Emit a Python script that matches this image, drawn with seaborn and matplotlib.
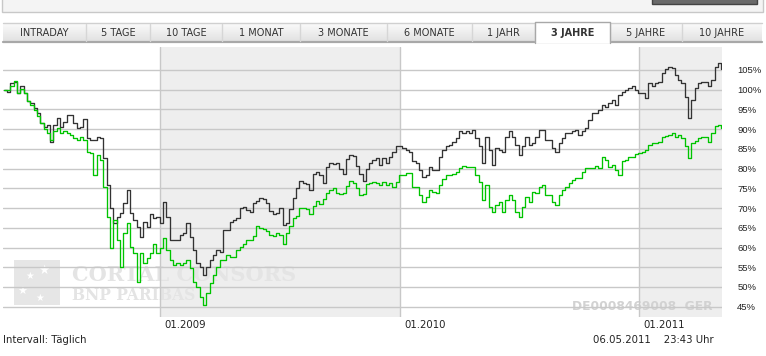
import numpy as np
import pandas as pd
import matplotlib
matplotlib.use("Agg")
import matplotlib.pyplot as plt
import seaborn as sns
from matplotlib.patches import Rectangle
from matplotlib import transforms

# chart values (percent of start level)
dax_line = [
    99.9, 99.5, 101.6, 102.0, 99.1, 100.9, 99.1, 97.0, 96.5, 95.3,
    94.2, 91.5, 90.6, 91.1, 86.8, 91.1, 92.7, 90.6, 91.9, 93.6,
    93.6, 91.5, 90.2, 90.6, 92.5, 87.7, 87.2, 87.2, 88.1, 87.7,
    82.6, 75.8, 69.9, 66.1, 67.8, 68.7, 71.2, 74.6, 68.7, 67.0,
    65.3, 62.7, 66.5, 65.3, 68.5, 67.4, 67.8, 66.1, 71.6, 67.8,
    61.9, 61.9, 61.9, 63.2, 63.6, 66.1, 62.7, 59.4, 56.0, 55.1,
    53.0, 55.1, 56.8, 58.1, 59.4, 58.9, 64.4, 64.4, 66.5, 67.0,
    67.4, 69.9, 70.3, 69.5, 69.1,
    71.4, 71.8, 72.6, 72.2, 71.4, 69.2, 68.4, 68.8, 70.1, 65.8,
    66.3, 69.7, 72.6, 75.2, 76.9, 76.4, 76.0, 74.7, 78.6, 79.2,
    78.3, 76.4, 80.3, 81.5, 81.1, 81.5, 79.8, 78.6, 82.4, 83.4,
    83.2, 80.7, 78.6, 76.9, 79.8, 81.4,
    82.2, 82.6, 80.9, 82.6, 81.3, 83.0, 84.3, 85.6, 85.6, 85.1,
    84.7, 84.3, 81.8, 81.3, 79.6, 77.9, 78.4, 80.5, 79.6, 79.6,
    83.0, 84.7, 85.6, 86.0, 86.8, 87.7, 89.4, 89.1, 89.4, 88.9,
    89.8, 87.7, 85.6, 81.3, 88.1, 84.7, 80.9, 85.1, 84.7, 84.3,
    88.1, 89.4, 88.1, 86.0, 83.4, 85.6, 88.1, 86.0, 86.4, 88.1,
    89.8, 89.8, 87.2, 87.2, 85.1, 84.3, 86.4, 87.7, 88.9, 89.1,
    89.4, 89.8, 88.5, 89.4, 90.2, 92.3, 94.0, 94.0, 94.9, 96.1,
    95.7, 96.5, 97.4, 96.1, 98.7, 99.5, 99.8, 100.4, 100.8, 99.9,
    99.1,
    99.1, 97.8, 101.6, 100.8, 101.6, 102.0, 104.2, 105.2, 105.7, 105.4,
    103.7, 102.5, 101.6, 98.2, 92.7, 97.4, 100.4, 101.6, 102.0, 102.0,
    100.8, 102.5, 105.8, 106.8, 105.2,
]

green_line = [
    99.9, 99.9, 100.8, 102.3, 99.1, 100.1, 99.1, 97.0, 96.1, 94.9,
    93.2, 91.5, 90.0, 88.9, 87.2, 89.4, 90.2, 88.9, 89.4, 88.9,
    88.5, 87.7, 87.2, 88.1, 87.2, 84.3, 83.9, 78.4, 83.4, 82.2,
    75.4, 67.8, 59.8, 67.0, 61.9, 55.1, 63.6, 66.1, 60.2, 58.5,
    51.3, 58.5, 56.0, 57.3, 58.7, 61.0, 58.5, 59.8, 62.3, 59.4,
    56.8, 55.5, 56.0, 55.5, 56.0, 56.8, 54.7, 51.3, 50.1, 47.5,
    45.4, 48.4, 50.9, 53.0, 55.1, 56.8, 56.8, 58.1, 57.7, 57.7,
    59.4, 60.2, 61.0, 61.9, 61.9,
    62.9, 65.4, 65.0, 64.6, 64.2, 63.1, 62.9, 63.7, 63.3, 60.8,
    63.7, 65.4, 67.5, 68.0, 70.1, 70.1, 69.7, 68.4, 70.5, 71.8,
    70.9, 72.2, 73.9, 74.7, 75.2, 73.9, 73.5, 73.9, 75.6, 76.9,
    76.4, 75.2, 73.2, 73.5, 76.0, 76.4,
    76.7, 76.3, 75.8, 76.7, 75.8, 76.4, 75.4, 76.7, 78.4, 78.4,
    78.8, 78.8, 75.4, 75.4, 73.3, 71.6, 72.9, 74.6, 74.1, 73.9,
    75.8, 77.3, 78.4, 78.4, 78.6, 79.2, 80.1, 80.7, 80.5, 80.3,
    80.3, 78.4, 76.7, 72.0, 75.8, 70.3, 69.1, 70.8, 71.6, 69.1,
    72.0, 73.3, 72.0, 69.1, 67.8, 70.3, 72.9, 71.6, 74.1, 73.7,
    75.4, 75.8, 73.3, 73.3, 71.6, 70.8, 73.3, 74.6, 75.4, 76.3,
    77.1, 77.5, 77.5, 79.2, 80.1, 80.1, 80.1, 80.7, 80.1, 83.0,
    82.2, 80.5, 80.9, 79.6, 78.4, 81.8, 82.3, 82.9, 83.0, 83.6,
    83.9,
    84.3, 84.7, 86.0, 86.4, 86.4, 86.8, 88.1, 88.3, 88.5, 88.9,
    87.9, 88.5, 87.7, 85.6, 82.6, 86.4, 87.1, 87.7, 88.1, 88.1,
    86.8, 88.9, 90.8, 91.1, 90.2,
]

y_ticks = [45, 50, 55, 60, 65, 70, 75, 80, 85, 90, 95, 100, 105]
year_starts = ["2009-01-01", "2010-01-01", "2011-01-01"]
year_labels = ["01.2009", "01.2010", "01.2011"]
tab_labels = ["INTRADAY", "5 TAGE", "10 TAGE", "1 MONAT", "3 MONATE",
              "6 MONATE", "1 JAHR", "3 JAHRE", "5 JAHRE", "10 JAHRE"]
active_tab = "3 JAHRE"

dates = pd.date_range("2008-05-07", "2011-05-06", periods=len(dax_line))
df = pd.concat([
    pd.DataFrame({"date": dates, "value": dax_line, "series": "DAX"}),
    pd.DataFrame({"date": dates, "value": green_line, "series": "Vergleich"}),
], ignore_index=True)

sns.set_style("white")
plt.rcParams["font.family"] = ["DejaVu Sans"]

W, H = 766, 356
fig = plt.figure(figsize=(W / 100, H / 100), dpi=100)
fig.patch.set_facecolor("white")

# pixel overlay for the page decoration
ov = fig.add_axes([0, 0, 1, 1], zorder=0)
ov.set_xlim(0, W)
ov.set_ylim(H, 0)
ov.axis("off")

# plot area: x 3..722, y 47..317 px
ax = fig.add_axes([3 / W, 1 - 317 / H, 719 / W, 270 / H], zorder=1)
ax.set_facecolor("none")
x0, x1 = pd.Timestamp("2008-05-06"), pd.Timestamp("2011-05-07")
ax.set_xlim(x0, x1)
ax.set_ylim(42.4, 110.8)

# alternating year shading
ax.axvspan(pd.Timestamp("2009-01-01"), pd.Timestamp("2010-01-01"), color="#eeeeee", lw=0, zorder=0)
ax.axvspan(pd.Timestamp("2011-01-01"), x1, color="#eeeeee", lw=0, zorder=0)

# watermark
ov_tr = ov.transData
ax.add_patch(Rectangle((14, 260), 46, 45, transform=ov_tr, color="#e6e6e6", lw=0, zorder=0.5))
for sx, sy, ss in [(44, 270, 9), (30, 276, 7), (22, 292, 8), (40, 298, 7)]:
    ax.text(sx, sy, "\u2605", transform=ov_tr, color="white", fontsize=ss,
            ha="center", va="center", zorder=0.6)
ax.text(72, 275, "CORTAL CONSORS", transform=ov_tr, color="#e4e4e4", fontsize=15,
        family="DejaVu Serif", weight="bold", ha="left", va="center", zorder=0.5)
ax.text(72, 296, "BNP PARIBAS", transform=ov_tr, color="#e4e4e4", fontsize=11.2,
        family="DejaVu Serif", weight="bold", ha="left", va="center", zorder=0.5)
ax.text(712, 306, "DE0008469008  GER", transform=ov_tr, color="#d2d2d2", fontsize=8.8,
        weight="bold", ha="right", va="center", zorder=0.5)

# grid
for v in y_ticks:
    ax.axhline(v, color="#c8c8c8", lw=1.0, zorder=1)
for d in year_starts:
    ax.axvline(pd.Timestamp(d), color="#c8c8c8", lw=1.0, zorder=1)

sns.lineplot(data=df, x="date", y="value", hue="series", hue_order=["DAX", "Vergleich"],
             palette={"DAX": "#333333", "Vergleich": "#00c400"}, drawstyle="steps-post",
             lw=0.95, legend=False, estimator=None, ax=ax, zorder=3)

for s in ax.spines.values():
    s.set_visible(False)
ax.set_xlabel("")
ax.set_ylabel("")
ax.set_xticks([])
ax.yaxis.set_ticks_position("right")
ax.set_yticks(y_ticks)
ax.set_yticklabels([f"{v}%" for v in y_ticks], family="Liberation Sans", fontsize=6.8, color="#222222")
ax.tick_params(axis="y", length=0, pad=11)

lab_tr = transforms.offset_copy(ax.get_xaxis_transform(), fig=fig, x=4, y=-8, units="dots")
for d, lab in zip(year_starts, year_labels):
    ax.text(pd.Timestamp(d), 0, lab, transform=lab_tr, fontsize=7.3, color="#222222",
            ha="left", va="center")

# header strip and button
ov.add_patch(Rectangle((2, -3), 761, 15, facecolor="#f4f4f4", edgecolor="#c8c8c8", lw=1))
ov.add_patch(Rectangle((652, -3), 105, 7, facecolor="#6a6a6a", edgecolor="#444444", lw=1))

# tab bar
edges = [3, 86, 150, 222, 300, 387, 472, 535, 610, 682, 762]
grad = np.linspace(0, 1, 50).reshape(-1, 1)
ov.imshow(grad, extent=[edges[0], edges[-1], 41, 23], cmap=matplotlib.colors.LinearSegmentedColormap.from_list(
    "tab", ["#fbfbfb", "#e2e2e2"]), aspect="auto", zorder=1)
ov.plot([edges[0], edges[-1]], [23, 23], color="#d0d0d0", lw=1, zorder=2)
ov.plot([edges[0], edges[-1]], [41.5, 41.5], color="#a8a8a8", lw=1.6, zorder=2)
for e in edges[1:-1]:
    ov.plot([e, e], [24, 41], color="#d6d6d6", lw=1, zorder=2)
for i, lab in enumerate(tab_labels):
    xl, xr = edges[i], edges[i + 1]
    if lab == active_tab:
        ov.add_patch(Rectangle((xl, 22), xr - xl, 21, facecolor="white", edgecolor="none", zorder=3))
        ov.plot([xl, xl, xr, xr], [42.5, 22, 22, 42.5], color="#a8a8a8", lw=1, zorder=4)
    ov.text((xl + xr) / 2, 32.5, lab, fontsize=7, color="#333333", ha="center", va="center",
            weight="bold" if lab == active_tab else "normal", zorder=5)

ov.text(3, 340, "Intervall: T\u00e4glich", fontsize=7.3, color="#222222", ha="left", va="center")
ov.text(714, 340, "06.05.2011    23:43 Uhr", fontsize=7.3, color="#222222", ha="right", va="center")

fig.savefig("out.png", dpi=100)
